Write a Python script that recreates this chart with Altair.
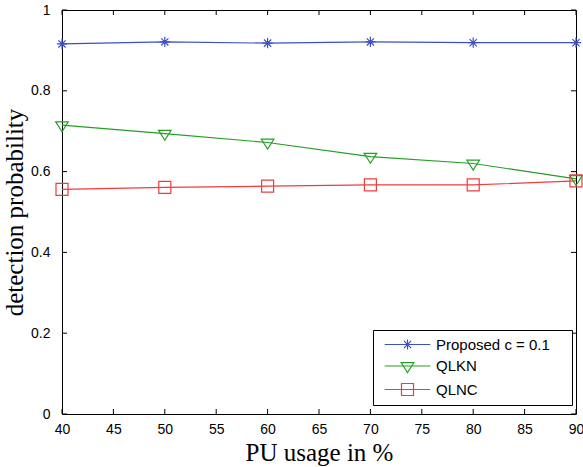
import altair as alt
import pandas as pd

# ---- data ----
x_vals = [40, 50, 60, 70, 80, 90]
proposed = [0.916, 0.921, 0.918, 0.921, 0.919, 0.919]
qlkn = [0.715, 0.694, 0.672, 0.637, 0.620, 0.582]
qlnc = [0.556, 0.561, 0.564, 0.567, 0.567, 0.577]
series_names = ["Proposed c = 0.1", "QLKN", "QLNC"]
colors = ["#3c4fc4", "#22a022", "#f03c3c"]
x_ticks = [40, 45, 50, 55, 60, 65, 70, 75, 80, 85, 90]
y_ticks = [0, 0.2, 0.4, 0.6, 0.8, 1]

W, H, TICK = 514, 404, 5

rows = []
for name, vals in zip(series_names, [proposed, qlkn, qlnc]):
    for xv, yv in zip(x_vals, vals):
        rows.append({"x": xv, "y": yv, "series": name})
df = pd.DataFrame(rows)
xt_df = pd.DataFrame({"t": x_ticks})
yt_df = pd.DataFrame({"t": y_ticks})

# marker shapes (unit coords, [-1,1] == sqrt(size) px)
star = "M-0.85,0L0.85,0M0,-0.85L0,0.85M-0.6,-0.6L0.6,0.6M-0.6,0.6L0.6,-0.6"
tri = "M-1.05,-0.55L1.05,-0.55L0,1.1Z"
sq = "M-1,-1L1,-1L1,1L-1,1Z"
marker_paths = [star, tri, sq]
leg_line = "M-3.8,0L3.8,0"
legend_paths = [leg_line + p for p in marker_paths]

xscale = alt.Scale(domain=[40, 90], nice=False, zero=False)
yscale = alt.Scale(domain=[0, 1], nice=False)

base = alt.Chart(df)

lines = base.mark_line(strokeWidth=1.2).encode(
    x=alt.X("x:Q", scale=xscale,
            axis=alt.Axis(values=x_ticks, ticks=False, tickSize=0, labelPadding=8,
                          labelFlush=False, title="PU usage in %", titlePadding=4,
                          format="d")),
    y=alt.Y("y:Q", scale=yscale,
            axis=alt.Axis(values=y_ticks, ticks=False, tickSize=0, labelPadding=12,
                          format="~g", title="detection probability", titlePadding=3)),
    color=alt.Color("series:N", scale=alt.Scale(domain=series_names, range=colors), legend=None),
)

points = base.mark_point(filled=False, size=144, strokeWidth=1.2, opacity=1).encode(
    x=alt.X("x:Q", scale=xscale, axis=None),
    y=alt.Y("y:Q", scale=yscale, axis=None),
    color=alt.Color("series:N", scale=alt.Scale(domain=series_names, range=colors), legend=None),
    shape=alt.Shape("series:N", scale=alt.Scale(domain=series_names, range=marker_paths),
                    legend=None),
)

# inward tick marks on all four sides (MATLAB box style)
tick_bottom = alt.Chart(xt_df).mark_rule(color="black", strokeWidth=1).encode(
    x=alt.X("t:Q", scale=xscale, axis=None), y=alt.value(H), y2=alt.value(H - TICK))
tick_top = alt.Chart(xt_df).mark_rule(color="black", strokeWidth=1).encode(
    x=alt.X("t:Q", scale=xscale, axis=None), y=alt.value(0), y2=alt.value(TICK))
tick_left = alt.Chart(yt_df).mark_rule(color="black", strokeWidth=1).encode(
    y=alt.Y("t:Q", scale=yscale, axis=None), x=alt.value(0), x2=alt.value(TICK))
tick_right = alt.Chart(yt_df).mark_rule(color="black", strokeWidth=1).encode(
    y=alt.Y("t:Q", scale=yscale, axis=None), x=alt.value(W), x2=alt.value(W - TICK))

leg_params = dict(
    title=".", titleOrient="right", titleOpacity=0, titlePadding=11,
    titleFontSize=14, titleFont="Liberation Sans",
    orient="none", legendX=311, legendY=320,
    strokeColor="black", fillColor="white", padding=7,
    symbolOffset=20, labelOffset=21, rowPadding=5.5,
    labelFont="Liberation Sans", labelFontSize=15,
    labelColor="black", symbolSize=144, symbolStrokeWidth=1.2,
    symbolOpacity=1,
)

legend_layer = base.transform_filter("datum.y > 5").mark_point(
    filled=False, size=144, strokeWidth=1.2
).encode(
    x=alt.X("x:Q", scale=xscale, axis=None),
    y=alt.Y("y:Q", scale=yscale, axis=None),
    color=alt.Color("series:N", scale=alt.Scale(domain=series_names, range=colors),
                    legend=alt.Legend(**leg_params)),
    shape=alt.Shape("series:N", scale=alt.Scale(domain=series_names, range=legend_paths),
                    legend=alt.Legend(**leg_params)),
)

chart = alt.layer(
    lines, points, tick_bottom, tick_top, tick_left, tick_right, legend_layer
).resolve_axis(
    x="independent", y="independent"
).resolve_scale(
    color="independent", shape="independent"
).properties(
    width=W, height=H,
    autosize=alt.AutoSizeParams(type="none"),
    padding={"left": 62, "top": 10, "right": 7, "bottom": 53},
    background="white",
).configure_view(
    stroke="black", strokeWidth=1
).configure_axis(
    labelFont="Liberation Sans", labelFontSize=14, labelColor="black",
    domain=False, grid=False,
    titleFont="Liberation Serif", titleFontSize=25, titleFontWeight="normal",
    titleColor="black",
)

chart.save("out.html", embed_options={"renderer": "svg", "actions": False})
